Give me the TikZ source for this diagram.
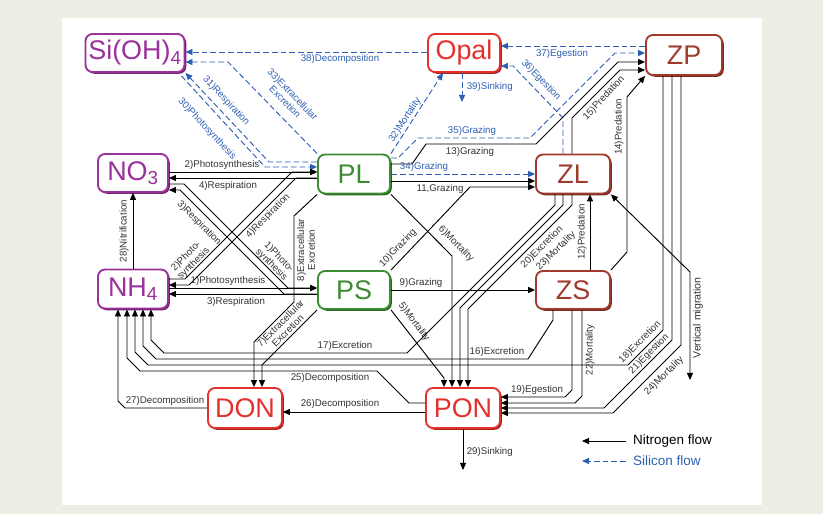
\documentclass[tikz,border=0pt]{standalone}
\usepackage{fontspec}
\setmainfont{Liberation Sans}
\usetikzlibrary{arrows.meta,shadows,calc}
\definecolor{bgbeige}{HTML}{EFEEE5}
\definecolor{purp}{HTML}{9B319B}
\definecolor{redbox}{HTML}{E3312D}
\definecolor{brownbox}{HTML}{A03A2C}
\definecolor{greenbox}{HTML}{3D8B32}
\definecolor{siblue}{HTML}{2E5FB4}
\tikzset{
  pool/.style={draw=#1, text=#1, fill=white, line width=1.6pt, rounded corners=6pt,
    minimum width=2.16cm, minimum height=1.14cm, inner sep=0pt,
    font=\fontsize{23}{23}\selectfont,
    drop shadow={shadow xshift=1.5pt, shadow yshift=-1.5pt, fill=#1!70!black, opacity=1}},
  tip/.style={-{Triangle[length=6pt,width=5.2pt]}},
  nflow/.style={draw=black, line width=0.8pt, tip},
  sflow/.style={draw=siblue, line width=0.8pt, dash pattern=on 5pt off 2.5pt, tip},
  lab/.style={font=\fontsize{8.3}{9}\selectfont, inner sep=0.5pt, text=black!80},
  slab/.style={lab, text=siblue},
}
\begin{document}
\begin{tikzpicture}[x=0.03cm, y=-0.03cm]
      \fill[bgbeige] (0,0) rectangle (823,514);
      \fill[white] (62,18) rectangle (762,505);
      \useasboundingbox (0,0) rectangle (823,514);
      % pools
      \node[pool=purp, minimum width=2.97cm] (SiOH) at (135,53) {Si(OH)\textsubscript{4}};
      \node[pool=redbox] (Opal) at (464,53) {Opal};
      \node[pool=brownbox, minimum width=2.28cm, minimum height=1.2cm] (ZP) at (684,55) {ZP};
      \node[pool=purp, minimum width=2.1cm] (NO3) at (133,173) {NO\textsubscript{3}};
      \node[pool=greenbox, minimum height=1.17cm] (PL) at (354,174) {PL};
      \node[pool=brownbox, minimum width=2.22cm, minimum height=1.17cm] (ZL) at (573,174) {ZL};
      \node[pool=purp, minimum width=2.1cm, minimum height=1.17cm] (NH4) at (133,289) {NH\textsubscript{4}};
      \node[pool=greenbox] (PS) at (354,290) {PS};
      \node[pool=brownbox, minimum width=2.22cm] (ZS) at (573,290) {ZS};
      \node[pool=redbox, minimum width=2.22cm, minimum height=1.2cm] (DON) at (245,408) {DON};
      \node[pool=redbox, minimum width=2.22cm, minimum height=1.2cm] (PON) at (463,408) {PON};
      \coordinate (sinkSi) at (462,102);
      \coordinate (sinkN) at (463,470);
      \coordinate (vmig) at (690,380);
      % silicon flows
      \draw[sflow] (Opal.west|-0,52) -- (SiOH.east|-0,52);
      \draw[sflow] (PL.north west) -- (228,62) -- (SiOH.east|-0,62);
      \draw[sflow] (PL.west|-0,162) -- (269,162) -- (SiOH.south east);
      \draw[sflow] ($(SiOH.south east)+(-4,3)$) -- (265,167) -- (PL.west|-0,167);
      \draw[sflow] (PL.north east) -- (Opal.south-|443,0);
      \draw[sflow] (Opal.south-|462,0) -- (sinkSi);
      \draw[sflow] (PL.east|-0,158) -- (398,158) -- (418,138) -- (530,138) -- (615,53) -- (ZP.west|-0,53);
      \draw[sflow] (PL.east|-0,174) -- (ZL.west|-0,174);
      \draw[sflow] (ZL.north-|563,0) -- (563,118) -- (513,66) -- (Opal.east|-0,66);
      \draw[sflow] (ZP.west|-0,46) -- (Opal.east|-0,46);
      % nitrogen flows
      \draw[nflow] (NO3.east|-0,172) -- (PL.west|-0,172);
      \draw[nflow] (PL.west|-0,178) -- (NO3.east|-0,178);
      \draw[nflow] (NH4.east|-0,288) -- (PS.west|-0,288);
      \draw[nflow] (PS.west|-0,294) -- (NH4.east|-0,294);
      \draw[nflow] (NH4.east|-0,279) -- (185,279) -- (292,172) -- (PL.west|-0,172);
      \draw[nflow] (PL.west|-0,178) -- (296,178) -- (189,285) -- (NH4.east|-0,285);
      \draw[nflow] (NO3.east|-0,184) -- (184,184) -- (288,288) -- (PS.west|-0,288);
      \draw[nflow] (PS.west|-0,294) -- (284,294) -- (180,190) -- (NO3.east|-0,190);
      \draw[nflow] (NH4.north) -- (NO3.south);
      \draw[nflow] (PL.south west) -- (294,216) -- (294,302) -- (254,342) -- (DON.north-|254,0);
      \draw[nflow] (PS.south west) -- (262,365) -- (DON.north-|262,0);
      \draw[nflow] (PS.south east) -- (444,378) -- (PON.north-|444,0);
      \draw[nflow] (PL.south east) -- (452,256) -- (PON.north-|452,0);
      \draw[nflow] (PS.east) -- (ZS.west);
      \draw[nflow] (PS.north east) -- (470,187) -- (ZL.west|-0,187);
      \draw[nflow] (PL.east|-0,181) -- (ZL.west|-0,181);
      \draw[nflow] (PL.east|-0,164) -- (412,164) -- (426,144) -- (536,144) -- (618,62) -- (ZP.west|-0,62);
      \draw[nflow] (ZS.north-|590,0) -- (ZL.south-|590,0);
      \draw[nflow] (ZS.north east) -- (627,252) -- (627,97) -- (ZP.south west);
      \draw[nflow] (ZL.north-|572,0) -- (572,118) -- (620,70) -- (ZP.west|-0,70);
      \draw[nflow, {Triangle[length=6pt,width=5.2pt]}-{Triangle[length=6pt,width=5.2pt]}] (ZL.south east) -- (690,272) -- (vmig);
      \draw[nflow] (ZL.south-|555,0) -- (555,205) -- (407,353) -- (164,353) -- (151,340) -- (NH4.south-|151,0);
      \draw[nflow] (ZL.south-|563,0) -- (563,205) -- (460,308) -- (PON.north-|460,0);
      \draw[nflow] (ZL.south-|572,0) -- (572,205) -- (468,309) -- (PON.north-|468,0);
      \draw[nflow] (ZS.south-|553,0) -- (553,320) -- (528,359) -- (156,359) -- (143,346) -- (NH4.south-|143,0);
      \draw[nflow] (ZS.south-|572,0) -- (572,390) -- (565,397) -- (PON.east|-0,397);
      \draw[nflow] (ZS.south-|582,0) -- (582,396) -- (575,403) -- (PON.east|-0,403);
      \draw[nflow] (ZP.south-|663,0) -- (663,330) -- (628,365) -- (148,365) -- (135,352) -- (NH4.south-|135,0);
      \draw[nflow] (ZP.south-|672,0) -- (672,340) -- (604,408) -- (PON.east|-0,408);
      \draw[nflow] (ZP.south-|681,0) -- (681,345) -- (613,413) -- (PON.east|-0,413);
      \draw[nflow] (PON.west|-0,403) -- (409,403) -- (377,371) -- (140,371) -- (127,358) -- (NH4.south-|127,0);
      \draw[nflow] (PON.west|-0,412) -- (DON.east|-0,412);
      \draw[nflow] (DON.west|-0,408) -- (125,408) -- (118,401) -- (NH4.south-|118,0);
      \draw[nflow] (PON.south) -- (sinkN);
      % silicon labels
      \node[slab] (l38) at (340,59) {38)Decomposition};
      \node[slab, rotate=-46, align=center] (l33) at (289,98) {33)Extracellular\\Excretion};
      \node[slab, rotate=-47] (l31) at (226,101) {31)Respiration};
      \node[slab, rotate=-47] (l30) at (207,129) {30)Photosynthesis};
      \node[slab, rotate=57] (l32) at (405,120) {32)Mortality};
      \node[slab, anchor=west] (l39) at (466,87) {39)Sinking};
      \node[slab] (l35) at (472,131) {35)Grazing};
      \node[slab] (l34) at (424,167) {34)Grazing};
      \node[slab, rotate=-46] (l36) at (541,80) {36)Egestion};
      \node[slab] (l37) at (562,54) {37)Egestion};
      % nitrogen labels
      \node[lab] (l2) at (222,165) {2)Photosynthesis};
      \node[lab] (l4) at (228,186) {4)Respiration};
      \node[lab] (l1) at (228,281) {1)Photosynthesis};
      \node[lab] (l3) at (236,302) {3)Respiration};
      \node[lab, rotate=-45] (l3d) at (199,223) {3)Respiration};
      \node[lab, rotate=-45, align=center] (l1d) at (275,261) {1)Photo-\\synthesis};
      \node[lab, rotate=45, align=center] (l2d) at (190,260) {2)Photo-\\synthesis};
      \node[lab, rotate=45] (l4d) at (268,216) {4)Respiration};
      \node[lab, rotate=90, align=center] (l8) at (306,250) {8)Extracellular\\Excretion};
      \node[lab, rotate=45, align=center] (l7) at (284,327) {7)Extracellular\\Excretion};
      \node[lab, rotate=-53] (l5) at (414,322) {5)Mortality};
      \node[lab, rotate=-45] (l6) at (456,244) {6)Mortality};
      \node[lab, rotate=46] (l10) at (398,248) {10)Grazing};
      \node[lab] (l11) at (440,189) {11,Grazing};
      \node[lab] (l9) at (421,283) {9)Grazing};
      \node[lab] (l13) at (470,152) {13)Grazing};
      \node[lab, rotate=90] (l12) at (582,232) {12)Predation};
      \node[lab, rotate=90] (l14) at (619,127) {14)Predation};
      \node[lab, rotate=47] (l15) at (604,98) {15)Predation};
      \node[lab, rotate=45] (l20) at (542,247) {20)Excretion};
      \node[lab, rotate=45] (l23) at (556,251) {23)Mortality};
      \node[lab] (l17) at (345,346) {17)Excretion};
      \node[lab] (l16) at (497,352) {16)Excretion};
      \node[lab] (l19) at (537,390) {19)Egestion};
      \node[lab, rotate=90] (l22) at (590,350) {22)Mortality};
      \node[lab, rotate=45] (l18) at (640,342) {18)Excretion};
      \node[lab, rotate=45] (l21) at (649,354) {21)Egestion};
      \node[lab, rotate=45] (l24) at (664,376) {24)Mortality};
      \node[lab] (l25) at (330,378) {25)Decomposition};
      \node[lab] (l26) at (340,404) {26)Decomposition};
      \node[lab] (l27) at (165,401) {27)Decomposition};
      \node[lab, rotate=90] (l28) at (124,231) {28)Nitrification};
      \node[lab, anchor=west] (l29) at (466,452) {29)Sinking};
      \node[lab, rotate=90, font=\fontsize{9}{9}\selectfont] (lvm) at (698,318) {Vertical migration};
      % legend
      \coordinate (legNa) at (626,441);
      \coordinate (legNb) at (582,441);
      \coordinate (legSa) at (626,461);
      \coordinate (legSb) at (582,461);
      \draw[nflow] (legNa) -- (legNb);
      \draw[sflow] (legSa) -- (legSb);
      \node[anchor=west, font=\fontsize{11.5}{12}\selectfont] (legNt) at (629,441) {Nitrogen flow};
      \node[anchor=west, font=\fontsize{11.5}{12}\selectfont, text=siblue] (legSt) at (629,461) {Silicon flow};
\end{tikzpicture}
\end{document}
